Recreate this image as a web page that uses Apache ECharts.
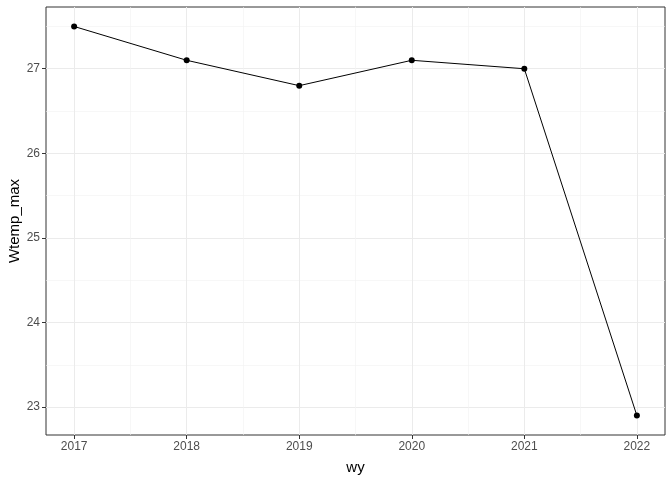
<!DOCTYPE html>
<html><head><meta charset="utf-8">
<script src="https://cdn.jsdelivr.net/npm/echarts@6/dist/echarts.min.js"></script>
<style>html,body{margin:0;padding:0;background:#fff}#c{width:672px;height:480px}</style>
</head><body><div id="c"></div>
<script>
const years = [2017, 2018, 2019, 2020, 2021, 2022];
const wtempMax = [27.5, 27.1, 26.8, 27.1, 27.0, 22.9];
const xMajor = [2017, 2018, 2019, 2020, 2021, 2022];
const xMinor = [2017.5, 2018.5, 2019.5, 2020.5, 2021.5];
const yMajor = [23, 24, 25, 26, 27];
const yMinor = [23.5, 24.5, 25.5, 26.5, 27.5];

const xMin = 2016.75, xMax = 2022.25, yMin = 22.67, yMax = 27.73;
const font = 'Liberation Sans, Arial, sans-serif';

const chart = echarts.init(document.getElementById('c'), null, {renderer: 'canvas'});
chart.setOption({
  backgroundColor: '#ffffff',
  animation: false,
  grid: {left: 46, right: 7, top: 7, bottom: 45, show: true, borderColor: '#333333', borderWidth: 1, backgroundColor: 'transparent', containLabel: false, outerBoundsMode: 'none'},
  xAxis: [
    {type: 'value', min: xMin, max: xMax, gridIndex: 0,
     axisLine: {show: false},
     axisTick: {show: true, customValues: xMajor, length: 4, lineStyle: {color: '#333333', width: 1}},
     axisLabel: {customValues: xMajor, formatter: v => String(v), color: '#4d4d4d', fontSize: 12, fontFamily: font, margin: 6},
     splitLine: {show: true, lineStyle: {color: '#ebebeb', width: 1}},
     name: 'wy', nameLocation: 'middle', nameGap: 25, nameTextStyle: {color: '#000', fontSize: 15, fontFamily: font}},
    {type: 'value', min: xMin, max: xMax, gridIndex: 0, position: 'bottom',
     axisLine: {show: false}, axisLabel: {show: false},
     axisTick: {show: false, customValues: xMinor},
     splitLine: {show: true, lineStyle: {color: '#f2f2f2', width: 0.6}}}
  ],
  yAxis: [
    {type: 'value', min: yMin, max: yMax,
     axisLine: {show: false},
     axisTick: {show: true, customValues: yMajor, length: 4, lineStyle: {color: '#333333', width: 1}},
     axisLabel: {customValues: yMajor, formatter: v => String(v), color: '#4d4d4d', fontSize: 12, fontFamily: font, margin: 6},
     splitLine: {show: true, lineStyle: {color: '#ebebeb', width: 1}},
     name: 'Wtemp_max', nameLocation: 'middle', nameGap: 24, nameMoveOverlap: false, nameRotate: 90, nameTextStyle: {color: '#000', fontSize: 15, fontFamily: font}},
    {type: 'value', min: yMin, max: yMax,
     axisLine: {show: false}, axisLabel: {show: false},
     axisTick: {show: false, customValues: yMinor},
     splitLine: {show: true, lineStyle: {color: '#f2f2f2', width: 0.6}}}
  ],
  series: [{
    type: 'line',
    data: years.map((y, i) => [y, wtempMax[i]]),
    xAxisIndex: 0, yAxisIndex: 0,
    symbol: 'circle', symbolSize: 6,
    itemStyle: {color: '#000'},
    lineStyle: {color: '#000', width: 1},
    z: 5
  }]
});
</script></body></html>
